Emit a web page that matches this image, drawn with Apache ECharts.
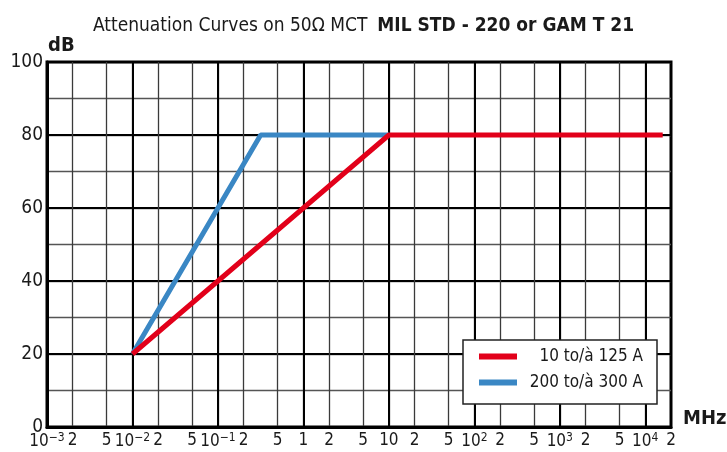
<!DOCTYPE html>
<html><head><meta charset="utf-8">
<script src="https://cdn.jsdelivr.net/npm/echarts@6/dist/echarts.min.js"></script>
<style>html,body{margin:0;padding:0;background:#fff}#c{width:727px;height:452px}</style>
</head><body><div id="c"></div>
<script>
// ---- data ----
const seriesNames = ['10 to/à 125 A', '200 to/à 300 A'];
const freqRed = [0.01, 10, 16000];
const dbRed = [20, 80, 80];
const freqBlue = [0.01, 0.316, 10];
const dbBlue = [20, 80, 80];
const xTickValues = [0.001,0.002,0.005,0.01,0.02,0.05,0.1,0.2,0.5,1,2,5,10,20,50,100,200,500,1000,2000,5000,10000,20000];
const xTickLabels = ['10^-3','2','5','10^-2','2','5','10^-1','2','5','1','2','5','10','2','5','10^2','2','5','10^3','2','5','10^4','2'];
const xDecades = [0.001,0.01,0.1,1,10,100,1000,10000];
const yMin = 0, yMax = 100;

const FONT = '"Liberation Sans Narrow","DejaVu Sans Condensed","Liberation Sans",sans-serif';
const TXT = '#1a1a1a';

function fmtLabel(v) {
  let idx = -1;
  for (let i = 0; i < xTickValues.length; i++) {
    if (Math.abs(Math.log10(v) - Math.log10(xTickValues[i])) < 1e-6) { idx = i; break; }
  }
  if (idx < 0) return '';
  const s = xTickLabels[idx];
  if (s.indexOf('^') >= 0) {
    const p = s.split('^');
    return '{b|' + p[0] + '}{s|' + p[1].replace('-', '−') + '}';
  }
  return '{b|' + s + '}';
}

const chart = echarts.init(document.getElementById('c'), null, {renderer: 'canvas'});
chart.setOption({
  animation: false,
  backgroundColor: '#fff',
  title: {
    text: '{n|Attenuation Curves on 50Ω MCT}  {b|MIL STD - 220 or GAM T 21}',
    left: 'center', top: 12,
    textStyle: {
      fontWeight: 'normal',
      rich: {
        n: {fontFamily: FONT, fontSize: 19, fontWeight: 'normal', color: TXT},
        b: {fontFamily: FONT, fontSize: 19, fontWeight: 'bold', color: TXT}
      }
    }
  },
  graphic: [
    {type: 'text', left: 48, top: 36, style: {text: 'dB', font: 'bold 20px ' + FONT, fill: TXT}},
    {type: 'text', left: 683, top: 409, style: {text: 'MHz', font: 'bold 20px ' + FONT, fill: TXT}}
  ],
  grid: {left: 47, right: 56, top: 62, bottom: 25, show: true, borderColor: '#000', borderWidth: 3, backgroundColor: 'transparent'},
  legend: {
    left: 463, top: 340, orient: 'vertical',
    data: [{name: seriesNames[0], icon: 'rect'}, {name: seriesNames[1], icon: 'rect'}],
    itemWidth: 38, itemHeight: 6, itemGap: 9,
    backgroundColor: '#fff', borderColor: '#222', borderWidth: 1.5, borderRadius: 0,
    padding: [8, 14, 13, 16],
    formatter: function (name) { return '{r|' + name + '}'; },
    textStyle: {
      fontFamily: FONT, fontSize: 17, color: TXT,
      rich: {r: {fontFamily: FONT, fontSize: 17, color: TXT, width: 121, align: 'right'}}
    }
  },
  xAxis: [
    {
      type: 'log', min: xTickValues[0], max: xTickValues[xTickValues.length - 1], logBase: 10,
      axisLine: {show: true, lineStyle: {color: '#000', width: 3}},
      axisTick: {show: false, customValues: xTickValues},
      axisLabel: {
        customValues: xTickValues, margin: 5, formatter: fmtLabel,
        rich: {
          b: {fontFamily: FONT, fontSize: 17, color: TXT},
          s: {fontFamily: FONT, fontSize: 12, color: TXT, padding: [0, 0, 8, 0]}
        }
      },
      splitLine: {show: true, showMaxLine: false, lineStyle: {color: '#3a3a3a', width: 1.3}}
    },
    {
      type: 'log', min: xTickValues[0], max: xTickValues[xTickValues.length - 1], logBase: 10,
      position: 'bottom',
      axisLine: {show: false}, axisTick: {show: false, customValues: xDecades},
      axisLabel: {show: false, customValues: xDecades},
      splitLine: {show: true, lineStyle: {color: '#000', width: 2}}
    }
  ],
  yAxis: [
    {
      type: 'value', min: yMin, max: yMax, interval: 10,
      axisLine: {show: false}, axisTick: {show: false}, axisLabel: {show: false},
      splitLine: {show: true, lineStyle: {color: '#555', width: 1.3}}
    },
    {
      type: 'value', min: yMin, max: yMax, interval: 20, position: 'left',
      axisLine: {show: true, lineStyle: {color: '#000', width: 3}}, axisTick: {show: false},
      axisLabel: {margin: 4, fontFamily: FONT, fontSize: 19, color: TXT},
      splitLine: {show: true, lineStyle: {color: '#000', width: 2}}
    }
  ],
  series: [
    {
      name: seriesNames[1], type: 'line', xAxisIndex: 0, yAxisIndex: 0,
      data: freqBlue.map((f, i) => [f, dbBlue[i]]),
      showSymbol: false, symbol: 'none', z: 3,
      lineStyle: {color: '#3a87c4', width: 5}, itemStyle: {color: '#3a87c4'}
    },
    {
      name: seriesNames[0], type: 'line', xAxisIndex: 0, yAxisIndex: 0,
      data: freqRed.map((f, i) => [f, dbRed[i]]),
      showSymbol: false, symbol: 'none', z: 4,
      lineStyle: {color: '#e2001a', width: 5}, itemStyle: {color: '#e2001a'}
    }
  ]
});
</script></body></html>
